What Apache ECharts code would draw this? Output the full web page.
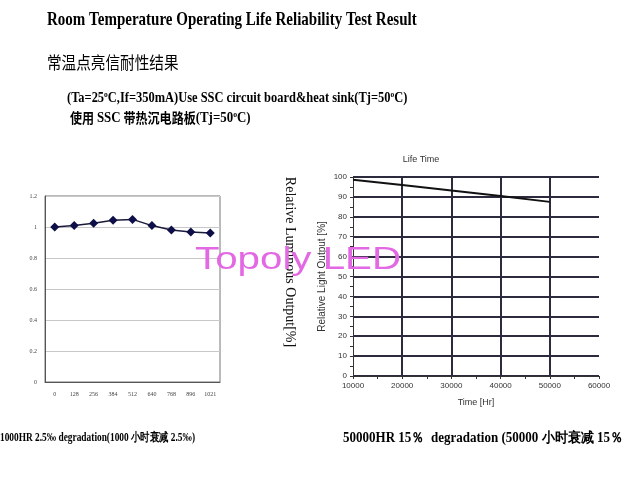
<!DOCTYPE html>
<html><head><meta charset="utf-8">
<script src="https://cdn.jsdelivr.net/npm/echarts@6/dist/echarts.min.js"></script>
<style>html,body{margin:0;padding:0;background:#fff}#c{width:640px;height:480px}</style>
</head><body><div id="c"></div>
<script>
// Left chart (1000 hr)
const leftHours = ['0','128','256','384','512','640','768','896','1021'];
const leftValues = [1.0, 1.009, 1.024, 1.043, 1.049, 1.009, 0.981, 0.968, 0.961];
const leftYTicks = [0, 0.2, 0.4, 0.6, 0.8, 1, 1.2];
// Right chart (life time)
const rightHours = [10000, 20000, 30000, 40000, 50000];
const rightValues = [98.6, 96.0, 93.2, 90.5, 87.5];

const serif = '"Liberation Serif","DejaVu Serif",serif';
const sans = '"Liberation Sans","DejaVu Sans",sans-serif';
const cjk = '"Noto Sans CJK SC",sans-serif';

const chart = echarts.init(document.getElementById('c'), null, {renderer:'canvas'});
function txt(x, y, text, font, sx, extra) {
  return Object.assign({type:'text', x:x, y:y, scaleX:sx||1, z:50,
    style:Object.assign({text:text, font:font, fill:'#000', verticalAlign:'middle', align:'left'}, extra||{})});
}
const supRich = {
  n:{fontFamily:serif, fontWeight:'bold', fontSize:15, fill:'#000'},
  s:{fontFamily:serif, fontWeight:'bold', fontSize:9, fill:'#000', verticalAlign:'top'},
  c:{fontFamily:cjk, fontWeight:'bold', fontSize:14, fill:'#000'}
};
chart.setOption({
  animation:false,
  backgroundColor:'#fff',
  grid:[
    {left:45, top:196, width:175, height:186, show:true, borderColor:'#777', borderWidth:1, backgroundColor:'transparent'},
    {left:353, top:177, width:246, height:199}
  ],
  xAxis:[
    {type:'category', gridIndex:0, data:leftHours, boundaryGap:true,
     axisLine:{lineStyle:{color:'#555'}}, axisTick:{show:false},
     axisLabel:{fontFamily:serif, fontSize:6, color:'#444', margin:9}},
    {type:'value', gridIndex:1, min:10000, max:60000, interval:10000,
     axisLine:{show:true, lineStyle:{color:'#333', width:1}},
     axisTick:{show:true, length:3, lineStyle:{color:'#333'}},
     minorTick:{show:true, splitNumber:2, length:3, lineStyle:{color:'#333'}},
     splitLine:{show:true, lineStyle:{color:['transparent','#2b2b3d','#2b2b3d','#2b2b3d','#2b2b3d','transparent'], width:2}},
     axisLabel:{fontFamily:sans, fontSize:8, color:'#333', margin:6, formatter:function(v){return String(v);}},
     name:'Time [Hr]', nameLocation:'middle', nameGap:22, nameTextStyle:{fontFamily:sans, fontSize:9, color:'#333'}}
  ],
  yAxis:[
    {type:'value', gridIndex:0, min:0, max:1.2, interval:0.2,
     axisLine:{show:true, lineStyle:{color:'#555'}}, axisTick:{show:false},
     splitLine:{show:true, lineStyle:{color:'#c8c8c8'}},
     axisLabel:{fontFamily:serif, fontSize:6, color:'#444', margin:8, formatter:function(v){return String(Math.round(v*10)/10);}}},
    {type:'value', gridIndex:1, min:0, max:100, interval:10,
     axisLine:{show:true, lineStyle:{color:'#333', width:1}},
     axisTick:{show:true, length:3, inside:false, lineStyle:{color:'#333'}},
     minorTick:{show:true, splitNumber:2, length:3, lineStyle:{color:'#333'}},
     splitLine:{show:true, lineStyle:{color:'#2b2b3d', width:2}},
     axisLabel:{fontFamily:sans, fontSize:8, color:'#333', margin:6},
     name:'Relative Light Output [%]', nameLocation:'middle', nameGap:26, nameTextStyle:{fontFamily:sans, fontSize:10, color:'#333'}}
  ],
  series:[
    {type:'line', xAxisIndex:0, yAxisIndex:0, data:leftValues, symbol:'diamond', symbolSize:9,
     lineStyle:{color:'#1a1a3a', width:1.5}, itemStyle:{color:'#0e0e48'}, z:5},
    {type:'line', xAxisIndex:1, yAxisIndex:1, data:rightHours.map((h,i)=>[h,rightValues[i]]), symbol:'none',
     lineStyle:{color:'#111', width:2}, z:5}
  ],
  graphic:[
    txt(47, 20, 'Room Temperature Operating Life Reliability Test Result', 'bold 19px '+serif, 0.79),
    txt(47, 63, '常温点亮信耐性结果', '17px '+cjk, 0.86),
    {type:'text', x:67, y:98, scaleX:0.83, z:50, style:{text:'{n|(Ta=25}{s|o}{n|C,If=350mA)Use SSC circuit board&heat sink(Tj=50}{s|o}{n|C)}', rich:supRich, verticalAlign:'middle'}},
    {type:'text', x:70, y:118, scaleX:0.86, z:50, style:{text:'{c|使用} {n|SSC} {c|带热沉电路板}{n|(Tj=50}{s|o}{n|C)}', rich:supRich, verticalAlign:'middle'}},
    txt(0, 438, '1000HR 2.5‰ degradation(1000 小时衰减 2.5‰)', 'bold 12px '+serif, 0.78),
    txt(343, 438, '50000HR 15％  degradation (50000 小时衰减 15％', 'bold 14px '+serif, 0.93),
    {type:'text', x:290, y:262, rotation:-Math.PI/2, z:50, style:{text:'Relative Luminous Output[%]', font:'14px '+serif, fill:'#111', align:'center', verticalAlign:'middle'}},
    txt(421, 160, 'Life Time', '9px '+sans, 1, {align:'center', fill:'#333'}),
    txt(195, 260, 'Topoly LED', '31px '+sans, 1.3, {fill:'#e368e3'})
  ]
});
</script></body></html>
